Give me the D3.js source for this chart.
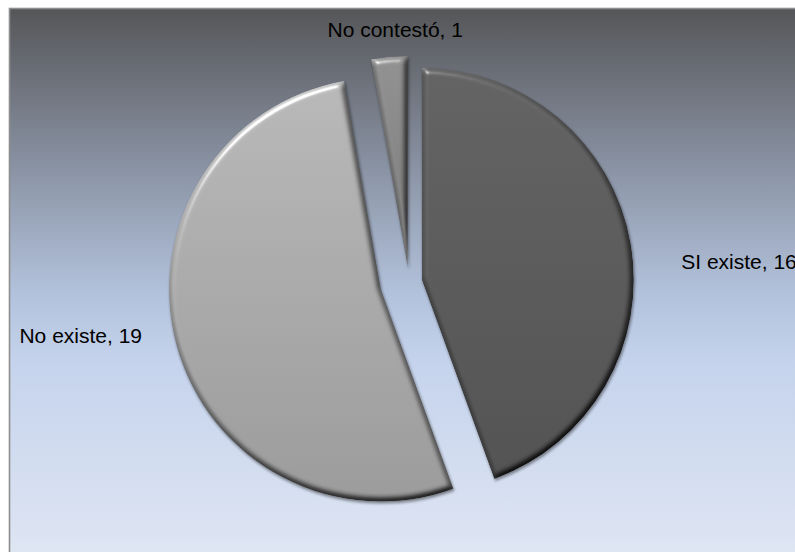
<!DOCTYPE html>
<html>
<head>
<meta charset="utf-8">
<script src="https://cdn.jsdelivr.net/npm/d3@7"></script>
<style>
  html, body { margin: 0; padding: 0; background: #ffffff; }
  svg { display: block; }
</style>
</head>
<body>
<script>
// Survey answers: does it exist?
const categories = ['SI existe', 'No existe', 'No contestó'];
const values = [16, 19, 1];

// Layout
const W = 795, H = 552;
const cx = 409, cy = 282, radius = 212;
const explode = [13, 29, 14];          // per-slice pull-out distance
const labelGap = 24;
const labelNudge = [[27, 23], [-11, -15], [8, -3]];
const sliceColors = ['#5c5c5c', '#ababab', '#878787'];

const svg = d3.select('body').append('svg')
  .attr('width', W).attr('height', H);

const defs = svg.append('defs');

// chart background: dark slate at top fading into pale blue
const bg = defs.append('linearGradient').attr('id', 'bgGrad')
  .attr('x1', 0).attr('y1', 0).attr('x2', 0).attr('y2', 1);
[[0, '#555658'], [0.12, '#6c7079'], [0.3, '#8e98aa'], [0.5, '#b3c2dc'],
 [0.62, '#c5d3ec'], [1, '#e2e8f4']].forEach(([o, c]) =>
  bg.append('stop').attr('offset', o).attr('stop-color', c));

// bevel: diffuse shading + specular highlight on the slice edges
const f = defs.append('filter').attr('id', 'bevel')
  .attr('x', '-10%').attr('y', '-10%').attr('width', '120%').attr('height', '120%')
  .attr('color-interpolation-filters', 'sRGB');
f.append('feGaussianBlur').attr('in', 'SourceAlpha').attr('stdDeviation', 3.2).attr('result', 'blur');
const dif = f.append('feDiffuseLighting').attr('in', 'blur').attr('surfaceScale', 5)
  .attr('diffuseConstant', 1.155).attr('lighting-color', '#ffffff').attr('result', 'diff');
dif.append('feDistantLight').attr('azimuth', 240).attr('elevation', 60);
f.append('feComposite').attr('in', 'SourceGraphic').attr('in2', 'diff')
  .attr('operator', 'arithmetic').attr('k1', 1).attr('k2', 0).attr('k3', 0).attr('k4', 0)
  .attr('result', 'shaded');
const spec = f.append('feSpecularLighting').attr('in', 'blur').attr('surfaceScale', 5)
  .attr('specularConstant', 0.6).attr('specularExponent', 30)
  .attr('lighting-color', '#ffffff').attr('result', 'spec');
spec.append('feDistantLight').attr('azimuth', 240).attr('elevation', 30);
f.append('feComposite').attr('in', 'spec').attr('in2', 'SourceAlpha')
  .attr('operator', 'in').attr('result', 'specIn');
f.append('feComposite').attr('in', 'shaded').attr('in2', 'specIn')
  .attr('operator', 'arithmetic').attr('k1', 0).attr('k2', 1).attr('k3', 0.7).attr('k4', 0)
  .attr('result', 'lit');
f.append('feComposite').attr('in', 'lit').attr('in2', 'SourceAlpha').attr('operator', 'in')
  .attr('result', 'litIn');
f.append('feGaussianBlur').attr('in', 'SourceAlpha').attr('stdDeviation', 1.5).attr('result', 'sh');
f.append('feOffset').attr('in', 'sh').attr('dx', 1).attr('dy', 1.5).attr('result', 'shOff');
f.append('feComponentTransfer').attr('in', 'shOff').attr('result', 'shFade')
  .append('feFuncA').attr('type', 'linear').attr('slope', 0.45);
const merge = f.append('feMerge');
merge.append('feMergeNode').attr('in', 'shFade');
merge.append('feMergeNode').attr('in', 'litIn');

// vertical shading gradient per slice
sliceColors.forEach((c, i) => {
  const g = defs.append('linearGradient').attr('id', 'slice' + i)
    .attr('x1', 0).attr('y1', 0).attr('x2', 0).attr('y2', 1);
  g.append('stop').attr('offset', 0).attr('stop-color', d3.color(c).brighter(0.2));
  g.append('stop').attr('offset', 1).attr('stop-color', d3.color(c).darker(0.28));
});

// chart frame
svg.append('rect')
  .attr('x', 9.5).attr('y', 8.5).attr('width', W + 20).attr('height', H + 20)
  .attr('fill', 'url(#bgGrad)')
  .attr('stroke', '#8e8e8e').attr('stroke-width', 1.6);

const pie = d3.pie().sort(null).value(d => d)(values);
const arc = d3.arc().innerRadius(0).outerRadius(radius);

const root = svg.append('g').attr('transform', `translate(${cx},${cy})`);

root.selectAll('path.slice')
  .data(pie)
  .join('path')
  .attr('class', 'slice')
  .attr('transform', (d, i) => {
    const a = (d.startAngle + d.endAngle) / 2;
    return `translate(${explode[i] * Math.sin(a)},${-explode[i] * Math.cos(a)})`;
  })
  .attr('d', arc)
  .attr('fill', (d, i) => `url(#slice${i})`)
  .attr('filter', 'url(#bevel)');

// data labels: "category, value"
root.selectAll('text.lbl')
  .data(pie)
  .join('text')
  .attr('class', 'lbl')
  .each(function (d, i) {
    const a = (d.startAngle + d.endAngle) / 2;
    const r = radius + explode[i] + labelGap;
    const s = Math.sin(a);
    const anchor = s > 0.4 ? 'start' : (s < -0.4 ? 'end' : 'middle');
    d3.select(this)
      .attr('x', r * s + labelNudge[i][0])
      .attr('y', -r * Math.cos(a) + labelNudge[i][1])
      .attr('dy', '0.35em')
      .attr('text-anchor', anchor);
  })
  .attr('font-family', '"Liberation Sans", Arial, sans-serif')
  .attr('font-size', 21)
  .attr('fill', '#000000')
  .text((d, i) => `${categories[i]}, ${values[i]}`);
</script>
</body>
</html>
